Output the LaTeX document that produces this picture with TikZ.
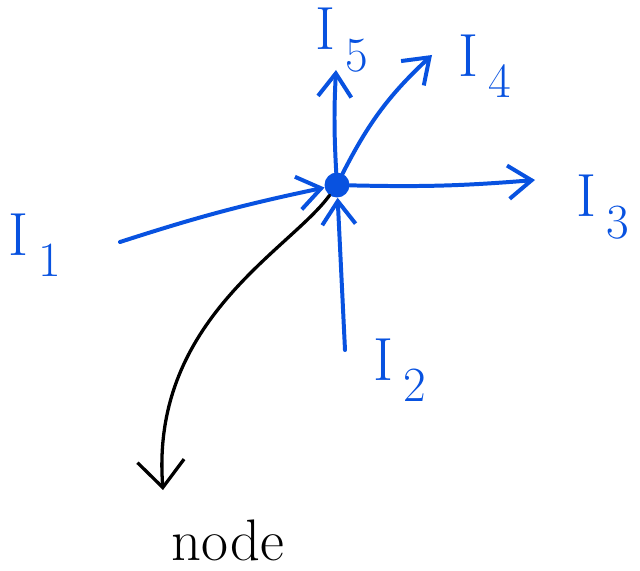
\documentclass[tikz,border=0pt]{standalone}
\usepackage{tikz}
\usetikzlibrary{arrows.meta,positioning}
\definecolor{inkblue}{RGB}{8,82,224}
\newcommand{\curlbl}[1]{I\,\raisebox{-0.35em}{\fontsize{42}{46}\selectfont #1}}
\tikzset{
  current/.style={line width=3.4pt, inkblue, line cap=round, -{Straight Barb[length=7mm,width=10mm,line width=3.4pt]}},
  lbl/.style={text=inkblue, font=\fontsize{52}{60}\selectfont},
  pointer/.style={line width=2.8pt, black, line cap=round, -{Straight Barb[length=8mm,width=14mm,line width=2.8pt]}},
}
\begin{document}
\begin{tikzpicture}[x=0.03cm, y=-0.03cm]
    \useasboundingbox (0,0) rectangle (640,571);

    % the junction
    \node[circle, fill=inkblue, inner sep=0pt, minimum size=0.75cm] (jn) at (337,185) {};

    % tails and heads of the currents
    \coordinate (t1) at (120,242);
    \coordinate (t2) at (345,350);
    \coordinate (h3) at (535,180);
    \coordinate (h4) at (432,55);
    \coordinate (h5) at (336,70);

    \draw[current] (t1) to[bend left=3] (jn);
    \draw[current] (t2) -- (jn);
    \draw[current] (jn) to[bend right=3] (h3);
    \draw[current] (jn) to[bend left=10] (h4);
    \draw[current] (jn) to[bend left=3] (h5);

    % labels
    \node[lbl] (i1) at (35,245) {\curlbl{1}};
    \node[lbl] (i2) at (400,370) {\curlbl{2}};
    \node[lbl] (i3) at (603,207) {\curlbl{3}};
    \node[lbl] (i4) at (485,66) {\curlbl{4}};
    \node[lbl] (i5) at (342,40) {\curlbl{5}};

    % pointer to the word
    \coordinate (pend) at (163,490);
    \draw[pointer] (jn) .. controls (290,250) and (150,320) .. (pend);
    \node[font=\fontsize{50}{56}\selectfont, inner sep=0pt] (nd) at (228,540) {node};
\end{tikzpicture}
\end{document}
